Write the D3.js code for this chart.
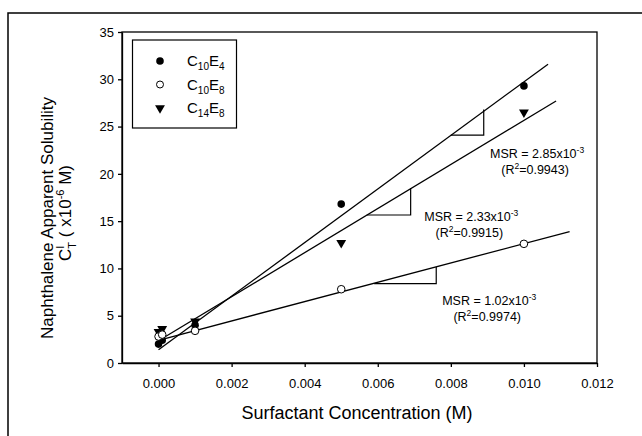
<!DOCTYPE html>
<html>
<head>
<meta charset="utf-8">
<script src="https://cdn.jsdelivr.net/npm/d3@7"></script>
<style>
  body { margin: 0; background: #fff; }
  svg { font-family: Arial, "Liberation Sans", sans-serif; }
</style>
</head>
<body>
<div id="chart"></div>
<script>
// measured points, x = surfactant conc (M), y = solubility (x10^-6 M)
var concX = [0, 0.0001, 0.001, 0.005, 0.010];
var c10e4 = [2.0, 2.4, 4.0, 16.8, 29.3];
var c10e8 = [2.8, 3.0, 3.4, 7.8, 12.6];
var c14e8 = [3.3, 3.6, 4.4, 12.7, 26.5];

// fitted lines, start and end points
var fitX0 = [0, 0, 0];
var fitY0 = [1.4, 2.35, 2.4];
var fitX1 = [0.01066, 0.01088, 0.01125];
var fitY1 = [31.6, 27.7, 13.9];

// slope triangles: left x, right x, bottom y, top y
var triX0 = [0.0080, 0.0057, 0.0059];
var triX1 = [0.0089, 0.0069, 0.0076];
var triYb = [24.1, 15.65, 8.4];
var triYt = [26.8, 18.5, 10.15];

// annotation labels
var msrText = ["2.85", "2.33", "1.02"];
var r2Text = ["0.9943", "0.9915", "0.9974"];
var annX = [0.01036, 0.00856, 0.00905];
var annY = [22.1, 15.45, 6.66];

var xTicks = [0, 0.002, 0.004, 0.006, 0.008, 0.010, 0.012];
var yTicks = [0, 5, 10, 15, 20, 25, 30, 35];

var width = 642,
    height = 436;

var svg = d3.select("#chart")
  .append("svg")
  .attr("width", width)
  .attr("height", height);

// outer frame (runs off the right and bottom of the picture)
svg.append("rect")
  .attr("x", 8).attr("y", 13)
  .attr("width", 700).attr("height", 500)
  .attr("fill", "none")
  .attr("stroke", "#000")
  .attr("stroke-width", 1.5);

var x = d3.scaleLinear().domain([-0.001, 0.012]).range([122, 597]);
var y = d3.scaleLinear().domain([0, 35]).range([363, 32]);

// plot box
svg.append("rect")
  .attr("x", x(-0.001)).attr("y", y(35))
  .attr("width", x(0.012) - x(-0.001))
  .attr("height", y(0) - y(35))
  .attr("fill", "none")
  .attr("stroke", "#000")
  .attr("stroke-width", 1.3);

var xAxis = svg.append("g")
  .attr("transform", "translate(0," + y(0) + ")")
  .call(d3.axisBottom(x).tickValues(xTicks).tickFormat(d3.format(".3f"))
    .tickSize(4).tickSizeOuter(0).tickPadding(12));

var yAxis = svg.append("g")
  .attr("transform", "translate(" + x(-0.001) + ",0)")
  .call(d3.axisLeft(y).tickValues(yTicks).tickSize(4).tickSizeOuter(0).tickPadding(4));

svg.selectAll(".tick text")
  .attr("font-size", 13)
  .attr("font-family", "Arial, 'Liberation Sans', sans-serif")
  .attr("fill", "#000");
svg.selectAll(".domain, .tick line")
  .attr("stroke", "#000")
  .attr("stroke-width", 1.3);

// axis titles
svg.append("text")
  .attr("x", 357).attr("y", 419)
  .attr("text-anchor", "middle")
  .attr("font-size", 18)
  .text("Surfactant Concentration (M)");

svg.append("text")
  .attr("transform", "translate(53,218) rotate(-90)")
  .attr("text-anchor", "middle")
  .attr("font-size", 17)
  .text("Naphthalene Apparent Solubility");

var yt2 = svg.append("text")
  .attr("transform", "translate(71,213) rotate(-90)")
  .attr("text-anchor", "middle")
  .attr("font-size", 17);
yt2.append("tspan").text("C");
yt2.append("tspan").attr("font-size", 11).attr("dy", -7).text("I");
yt2.append("tspan").attr("font-size", 11).attr("dx", -3).attr("dy", 12).text("T");
yt2.append("tspan").attr("dy", -5).text(" ( x10");
yt2.append("tspan").attr("font-size", 11).attr("dy", -7).text("-6");
yt2.append("tspan").attr("dy", 7).text(" M)");

// fit lines
var fits = d3.range(fitX0.length);
svg.selectAll(".fit")
  .data(fits)
  .enter().append("line")
  .attr("class", "fit")
  .attr("x1", function(i) { return x(fitX0[i]) })
  .attr("y1", function(i) { return y(fitY0[i]) })
  .attr("x2", function(i) { return x(fitX1[i]) })
  .attr("y2", function(i) { return y(fitY1[i]) })
  .attr("stroke", "#000")
  .attr("stroke-width", 1.3);

// slope triangles (horizontal leg + vertical leg)
svg.selectAll(".tri")
  .data(fits)
  .enter().append("path")
  .attr("class", "tri")
  .attr("d", function(i) {
    return "M" + x(triX0[i]) + "," + y(triYb[i]) +
      "L" + x(triX1[i]) + "," + y(triYb[i]) +
      "L" + x(triX1[i]) + "," + y(triYt[i]);
  })
  .attr("fill", "none")
  .attr("stroke", "#000")
  .attr("stroke-width", 1.2);

// annotations
fits.forEach(function(i) {
  var t1 = svg.append("text")
    .attr("x", x(annX[i])).attr("y", y(annY[i]) + 4.5)
    .attr("text-anchor", "middle")
    .attr("font-size", 12.5);
  t1.append("tspan").text("MSR = " + msrText[i] + "x10");
  t1.append("tspan").attr("font-size", 8.5).attr("dy", -5).text("-3");

  var t2 = svg.append("text")
    .attr("x", x(annX[i]) - 2).attr("y", y(annY[i]) + 20.5)
    .attr("text-anchor", "middle")
    .attr("font-size", 12.5);
  t2.append("tspan").text("(R");
  t2.append("tspan").attr("font-size", 8.5).attr("dy", -5).text("2");
  t2.append("tspan").attr("dy", 5).text("=" + r2Text[i] + ")");
});

// markers
var tri = d3.symbol().type(d3.symbolTriangle).size(42);

svg.selectAll(".p1")
  .data(concX)
  .enter().append("circle")
  .attr("class", "p1")
  .attr("cx", function(d) { return x(d) })
  .attr("cy", function(d, i) { return y(c10e4[i]) })
  .attr("r", 3.8)
  .attr("fill", "#000");

svg.selectAll(".p3")
  .data(concX)
  .enter().append("path")
  .attr("class", "p3")
  .attr("d", tri)
  .attr("transform", function(d, i) {
    return "translate(" + x(d) + "," + y(c14e8[i]) + ") rotate(180)";
  })
  .attr("fill", "#000");

svg.selectAll(".p2")
  .data(concX)
  .enter().append("circle")
  .attr("class", "p2")
  .attr("cx", function(d) { return x(d) })
  .attr("cy", function(d, i) { return y(c10e8[i]) })
  .attr("r", 3.8)
  .attr("fill", "#fff")
  .attr("stroke", "#000")
  .attr("stroke-width", 1);

// legend
var legend = svg.append("g");
legend.append("rect")
  .attr("x", 132.5).attr("y", 40)
  .attr("width", 104).attr("height", 88)
  .attr("fill", "#fff")
  .attr("stroke", "#000")
  .attr("stroke-width", 1.2);

var legSub1 = ["10", "10", "14"];
var legSub2 = ["4", "8", "8"];
var legRowY = [61, 84.5, 108];

legRowY.forEach(function(ry, i) {
  if (i === 0) {
    legend.append("circle").attr("cx", 160).attr("cy", ry).attr("r", 3.8).attr("fill", "#000");
  } else if (i === 1) {
    legend.append("circle").attr("cx", 160).attr("cy", ry).attr("r", 3.5)
      .attr("fill", "#fff").attr("stroke", "#000").attr("stroke-width", 1);
  } else {
    legend.append("path").attr("d", tri)
      .attr("transform", "translate(160," + ry + ") rotate(180)").attr("fill", "#000");
  }
  var lt = legend.append("text")
    .attr("x", 187).attr("y", ry + 5)
    .attr("font-size", 15);
  lt.append("tspan").text("C");
  lt.append("tspan").attr("font-size", 10).attr("dy", 4).text(legSub1[i]);
  lt.append("tspan").attr("dy", -4).text("E");
  lt.append("tspan").attr("font-size", 10).attr("dy", 4).text(legSub2[i]);
});
</script>
</body>
</html>
